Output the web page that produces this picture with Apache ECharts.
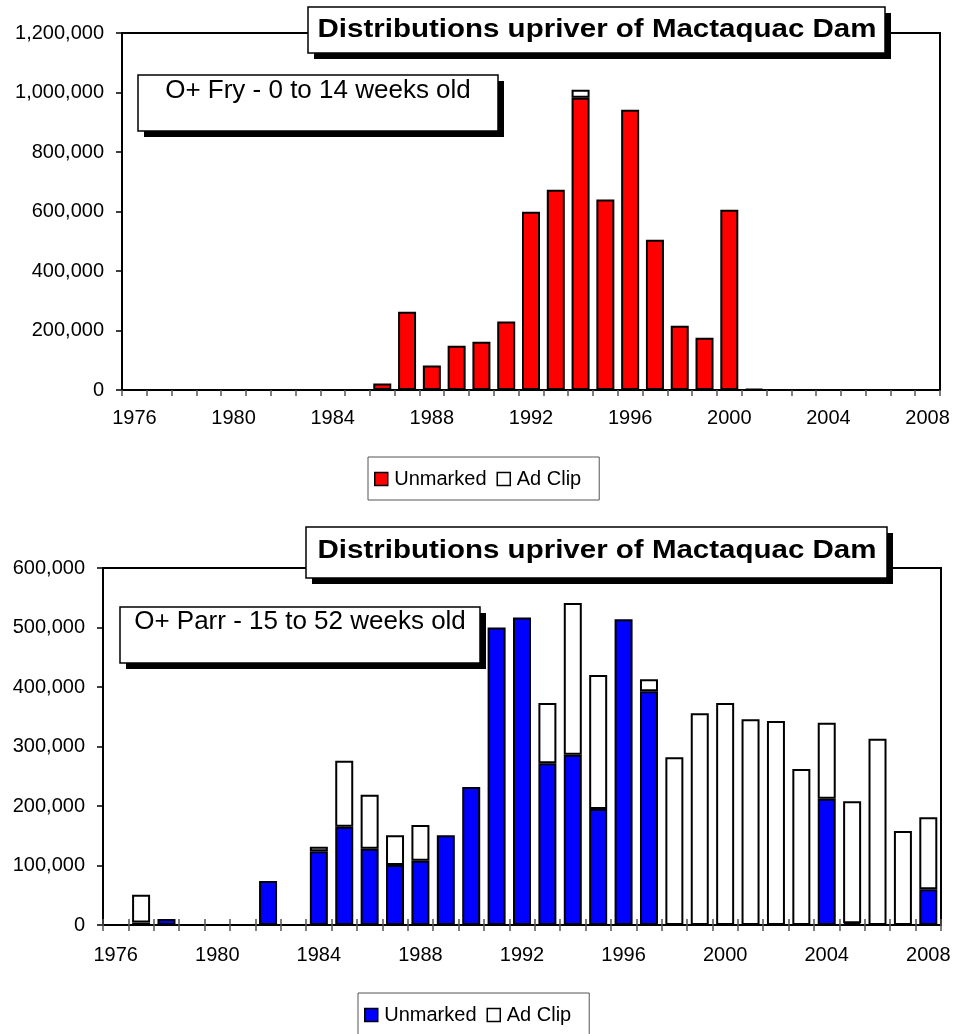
<!DOCTYPE html>
<html>
<head>
<meta charset="utf-8">
<script src="https://cdn.jsdelivr.net/npm/echarts@6/dist/echarts.min.js"></script>
<style>
html,body{margin:0;padding:0;background:#fff;}
#chart{width:956px;height:1034px;}
</style>
</head>
<body>
<div id="chart"></div>
<script>
const years = ['1976','1977','1978','1979','1980','1981','1982','1983','1984','1985','1986','1987','1988','1989','1990','1991','1992','1993','1994','1995','1996','1997','1998','1999','2000','2001','2002','2003','2004','2005','2006','2007','2008'];

const fryUnmarked = [null,null,null,null,null,null,null,null,null,null,22000,263000,82000,149000,162000,230000,599000,673000,982000,640000,942000,505000,216000,176000,606000,4000,null,null,null,null,null,null,null];
const fryAdClip   = [null,null,null,null,null,null,null,null,null,null,null,null,null,null,null,null,null,null,27000,null,null,null,null,null,null,null,null,null,null,null,null,null,null];

const parrUnmarked = [null,4000,10000,null,null,null,74000,null,124000,165000,128000,101000,108000,151000,232000,500000,517000,272000,286000,195000,514000,393000,null,null,null,null,null,null,212000,3000,null,null,60000];
const parrAdClip   = [null,47000,null,null,null,null,null,null,7500,111000,91000,50000,60000,null,null,null,null,101000,255000,225000,null,20000,282000,356000,373000,346000,343000,262000,128000,205000,313000,158000,121000];

const titleText = 'Distributions upriver of Mactaquac Dam';
const fryText = 'O+ Fry - 0 to 14 weeks old';
const parrText = 'O+ Parr - 15 to 52 weeks old';
const legendNames = ['Unmarked', 'Ad Clip'];

const FONT = "'Liberation Sans', Arial, Helvetica, sans-serif";
const RED = '#FF0000', BLUE = '#0000FF', WHITE = '#FFFFFF', BLACK = '#000000';

function fmt(v){ return Number(v).toLocaleString('en-US'); }

// measure title to fit it to the box width
const cv = document.createElement('canvas').getContext('2d');
cv.font = "bold 26px 'Liberation Sans'";
const titleW = cv.measureText(titleText).width;
const titleScale = 559 / titleW;

function xAxisCfg(grid, margin) {
  return {
    gridIndex: grid, type: 'category', data: years,
    axisLine: { lineStyle: { color: BLACK, width: 2 } },
    axisTick: { show: true, interval: 0, length: 6, lineStyle: { color: '#555', width: 1.5 } },
    axisLabel: { interval: 3, margin: margin, fontSize: 20, color: BLACK, fontFamily: FONT },
    splitLine: { show: false }
  };
}
function yAxisCfg(grid, max, interval) {
  return {
    gridIndex: grid, type: 'value', min: 0, max: max, interval: interval,
    axisLine: { show: true, lineStyle: { color: BLACK, width: 2 } },
    axisTick: { show: true, length: 6, lineStyle: { color: BLACK, width: 1.5 } },
    axisLabel: { margin: 18, fontSize: 20, color: BLACK, fontFamily: FONT, formatter: fmt },
    splitLine: { show: false }
  };
}
function barSeries(name, xi, stack, data, color) {
  return {
    name: name, type: 'bar', xAxisIndex: xi, yAxisIndex: xi, stack: stack, data: data,
    barWidth: 18,
    itemStyle: { color: color, borderColor: BLACK, borderWidth: 2 },
    emphasis: { disabled: true }
  };
}
function legendCfg(left, top, color) {
  return {
    left: left, top: top, orient: 'horizontal', selectedMode: false,
    data: [
      { name: legendNames[0], itemStyle: { color: color, borderColor: BLACK, borderWidth: 1.5 } },
      { name: legendNames[1], itemStyle: { color: WHITE, borderColor: BLACK, borderWidth: 1.5 } }
    ],
    icon: 'path://M0,0H10V10H0Z', itemWidth: 16, itemHeight: 13, itemGap: 10,
    textStyle: { fontSize: 20, color: BLACK, fontFamily: FONT },
    borderColor: '#555', borderWidth: 1, padding: [12, 18, 11, 6], backgroundColor: WHITE
  };
}
function boxGraphics(x, y, w, h, off, text, cx, cy, font, scale) {
  return [
    { type: 'rect', z: 100, shape: { x: x + off, y: y + off, width: w, height: h }, style: { fill: BLACK } },
    { type: 'rect', z: 101, shape: { x: x, y: y, width: w, height: h }, style: { fill: WHITE, stroke: BLACK, lineWidth: 1.5 } },
    { type: 'text', z: 102, x: cx, y: cy, scaleX: scale || 1,
      style: { text: text, x: 0, y: 0, font: font, fill: BLACK, textAlign: 'center', textVerticalAlign: 'middle', align: 'center', verticalAlign: 'middle' } }
  ];
}

const chart = echarts.init(document.getElementById('chart'), null, { renderer: 'canvas' });
chart.setOption({
  animation: false,
  backgroundColor: WHITE,
  grid: [
    { left: 122, top: 33, width: 818, height: 357, show: true, borderColor: BLACK, borderWidth: 2, backgroundColor: 'transparent' },
    { left: 103, top: 568, width: 838, height: 357, show: true, borderColor: BLACK, borderWidth: 2, backgroundColor: 'transparent' }
  ],
  xAxis: [
    xAxisCfg(0, 18),
    xAxisCfg(1, 20),
    { gridIndex: 1, type: 'category', data: years, position: 'bottom',
      axisLine: { show: false }, axisLabel: { show: false }, splitLine: { show: false },
      axisTick: { show: true, inside: true, interval: 0, length: 6, lineStyle: { color: '#555', width: 1.5 } } }
  ],
  yAxis: [ yAxisCfg(0, 1200000, 200000), yAxisCfg(1, 600000, 100000) ],
  legend: [ legendCfg(368, 457, RED), legendCfg(358, 993, BLUE) ],
  series: [
    barSeries('Unmarked', 0, 'fry', fryUnmarked, RED),
    barSeries('Ad Clip', 0, 'fry', fryAdClip, WHITE),
    barSeries('Unmarked', 1, 'parr', parrUnmarked, BLUE),
    barSeries('Ad Clip', 1, 'parr', parrAdClip, WHITE)
  ],
  graphic: [].concat(
    boxGraphics(308, 7, 577, 46, 6, titleText, 597, 30, "bold 26px 'Liberation Sans', Arial, sans-serif", titleScale),
    boxGraphics(138, 75, 360, 56, 6, fryText, 318, 90.5, "26px 'Liberation Sans', Arial, sans-serif"),
    boxGraphics(306, 527, 581, 51, 6, titleText, 597, 551, "bold 26px 'Liberation Sans', Arial, sans-serif", titleScale),
    boxGraphics(120, 607, 360, 56, 6, parrText, 300, 622, "26px 'Liberation Sans', Arial, sans-serif")
  )
});
</script>
</body>
</html>
